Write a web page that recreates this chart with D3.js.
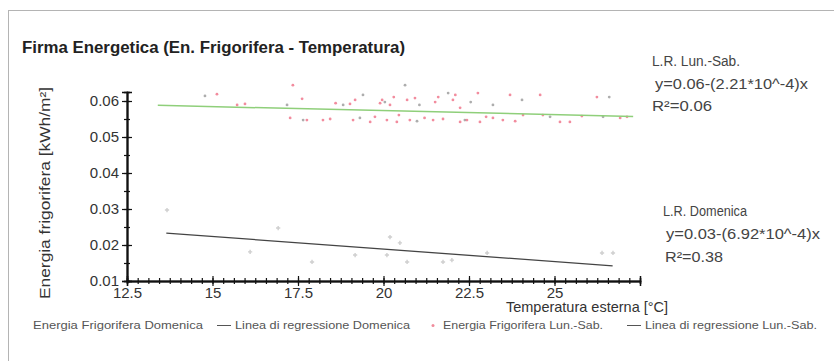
<!DOCTYPE html>
<html>
<head>
<meta charset="utf-8">
<script src="https://cdn.jsdelivr.net/npm/d3@7"></script>
<style>
  body { margin: 0; background: #fff; }
  svg { font-family: "Liberation Sans", Arial, sans-serif; }
</style>
</head>
<body>
<div id="chart"></div>
<script>
// tick labels
var xTicks = [12.5, 15, 17.5, 20, 22.5, 25]
var yTicks = [0.01, 0.02, 0.03, 0.04, 0.05, 0.06]

// Energia frigorifera Lun.-Sab. [temperatura, kWh/m2]
var lunSab = [
    [14.78, 0.0614], [15.13, 0.0619], [15.72, 0.0589], [15.95, 0.0592],
    [17.18, 0.0589], [17.27, 0.0553], [17.35, 0.0644], [17.62, 0.0606],
    [17.65, 0.0547], [17.76, 0.0547], [18.23, 0.0547], [18.44, 0.0550],
    [18.82, 0.0589], [19.02, 0.0592], [19.11, 0.0547], [19.17, 0.0603],
    [19.31, 0.0553], [19.61, 0.0542], [19.90, 0.0594], [19.96, 0.0603],
    [20.04, 0.0597], [20.10, 0.0547], [20.19, 0.0589], [20.39, 0.0542],
    [20.63, 0.0644], [20.69, 0.0603], [20.77, 0.0547], [20.92, 0.0608],
    [20.98, 0.0544], [21.45, 0.0547], [21.51, 0.0597], [21.74, 0.0550],
    [21.89, 0.0622], [22.03, 0.0603], [22.24, 0.0581], [22.24, 0.0542],
    [22.38, 0.0547], [22.44, 0.0547], [22.76, 0.0622], [22.82, 0.0542],
    [23.20, 0.0589], [23.20, 0.0553], [23.49, 0.0547], [23.70, 0.0617],
    [24.05, 0.0603], [24.08, 0.0561], [24.58, 0.0617], [24.66, 0.0561],
    [24.87, 0.0556], [25.16, 0.0542], [25.45, 0.0542], [26.24, 0.0611],
    [26.42, 0.0556], [26.92, 0.0553], [27.12, 0.0556],
    [18.60, 0.0594], [19.40, 0.0617], [19.75, 0.0556], [20.30, 0.0611],
    [20.45, 0.0561], [21.05, 0.0589], [21.20, 0.0553], [21.60, 0.0611],
    [22.10, 0.0617], [22.55, 0.0597], [23.00, 0.0556], [23.85, 0.0544],
    [25.80, 0.0558], [26.60, 0.0611]
]

// Energia frigorifera Domenica
var domenica = [
    [13.67, 0.0297], [16.10, 0.0181], [16.92, 0.0247], [17.91, 0.0153],
    [19.17, 0.0172], [20.10, 0.0172], [20.19, 0.0222], [20.48, 0.0206],
    [20.69, 0.0153], [21.74, 0.0153], [22.00, 0.0158], [23.03, 0.0178],
    [26.39, 0.0178], [26.71, 0.0178]
]

// regression lines (end points)
var regLunSab = [[13.4, 0.0588], [27.3, 0.0557]]
var regDomenica = [[13.65, 0.0233], [26.7, 0.0142]]

var notesLunSab = ['L.R. Lun.-Sab.', 'y=0.06-(2.21*10^-4)x', 'R\u00b2=0.06']
var notesDomenica = ['L.R. Domenica', 'y=0.03-(6.92*10^-4)x', 'R\u00b2=0.38']

var legendItems = [
    { label: 'Energia Frigorifera  Domenica', type: 'dot', color: '#ddd' },
    { label: 'Linea di regressione Domenica', type: 'line', color: '#555' },
    { label: 'Energia Frigorifera Lun.-Sab.', type: 'dot', color: '#f08c9c' },
    { label: 'Linea di regressione Lun.-Sab.', type: 'line', color: '#555' }
]

var W = 834, H = 361
var margin = { top: 92, left: 127 }
var width = 513, height = 189

var svg = d3.select('#chart').append('svg')
    .attr('width', W)
    .attr('height', H)

// frame
svg.append('rect')
    .attr('x', 8.5).attr('y', 10.5)
    .attr('width', 840).attr('height', 400)
    .style('fill', 'none')
    .style('stroke', '#b4b4b4')

svg.append('text')
    .attr('x', 22).attr('y', 53)
    .attr('textLength', 383)
    .attr('lengthAdjust', 'spacingAndGlyphs')
    .style('font-size', '16px')
    .style('font-weight', 'bold')
    .style('fill', '#222')
    .text('Firma Energetica (En. Frigorifera - Temperatura)')

var g = svg.append('g')
    .attr('transform', 'translate(' + margin.left + ',' + margin.top + ')')

var x = d3.scaleLinear().domain([12.5, 27.5]).range([0, width])
var y = d3.scaleLinear().domain([0.01, 0.0625]).range([height, 0])

var xMinor = d3.range(12.5, 27.51, 2.5 / 8)
var yMinor = d3.range(0.01, 0.0626, 0.005)

// points
g.append('g').selectAll('path')
    .data(domenica)
    .enter().append('path')
    .attr('d', d3.symbol().type(d3.symbolCross).size(10))
    .attr('transform', function (d) { return 'translate(' + x(d[0]) + ',' + y(d[1]) + ')' })
    .style('fill', '#cfcfcf')

g.append('g').selectAll('circle')
    .data(lunSab)
    .enter().append('circle')
    .attr('cx', function (d) { return x(d[0]) })
    .attr('cy', function (d) { return y(d[1]) })
    .attr('r', 1.4)
    .style('fill', function (d, i) { return i % 4 == 0 ? '#999' : '#ef6f86' })
    .style('opacity', 0.8)

var line = d3.line()
    .x(function (d) { return x(d[0]) })
    .y(function (d) { return y(d[1]) })

g.append('path').datum(regLunSab)
    .attr('d', line)
    .style('fill', 'none')
    .style('stroke', '#8fcf7a')
    .style('stroke-width', 1.5)

g.append('path').datum(regDomenica)
    .attr('d', line)
    .style('fill', 'none')
    .style('stroke', '#444')
    .style('stroke-width', 1.3)

// axes, ticks crossing the line
function styleAxis(sel) {
    sel.select('.domain').style('stroke', '#111').style('stroke-width', 1.5)
    sel.selectAll('.tick line').style('stroke', '#111').style('stroke-width', 1.2)
    sel.selectAll('text').style('font-size', '15px').style('fill', '#333')
        .style('font-family', '"Liberation Sans", Arial, sans-serif')
}

var gx = g.append('g').attr('transform', 'translate(0,' + height + ')')
gx.append('g').call(d3.axisBottom(x).tickValues(xMinor).tickSize(3).tickFormat('')).call(styleAxis)
gx.append('g').call(d3.axisTop(x).tickValues(xMinor).tickSize(3).tickFormat('')).call(styleAxis)
gx.append('g').call(d3.axisTop(x).tickValues(xTicks).tickSize(5).tickFormat('')).call(styleAxis)
gx.append('g').call(d3.axisBottom(x).tickValues(xTicks).tickSize(5).tickPadding(1)
    .tickFormat(function (d) { return d })).call(styleAxis)

var gy = g.append('g')
gy.append('g').call(d3.axisLeft(y).tickValues(yMinor).tickSize(3).tickFormat('')).call(styleAxis)
gy.append('g').call(d3.axisRight(y).tickValues(yMinor).tickSize(3).tickFormat('')).call(styleAxis)
gy.append('g').call(d3.axisRight(y).tickValues(yTicks).tickSize(5).tickFormat('')).call(styleAxis)
gy.append('g').call(d3.axisLeft(y).tickValues(yTicks).tickSize(5).tickPadding(3)
    .tickFormat(d3.format('.2f'))).call(styleAxis)

svg.append('text')
    .attr('x', 587).attr('y', 312)
    .style('text-anchor', 'middle')
    .style('font-size', '14.5px')
    .style('fill', '#333')
    .text('Temperatura esterna [\u00b0C]')

svg.append('text')
    .attr('transform', 'translate(50,193) rotate(-90)')
    .attr('textLength', 212)
    .attr('lengthAdjust', 'spacingAndGlyphs')
    .style('text-anchor', 'middle')
    .style('font-size', '15px')
    .style('fill', '#333')
    .text('Energia frigorifera [kWh/m\u00b2]')

// regression notes
function notes(lines, pos) {
    svg.append('g').selectAll('text')
        .data(lines)
        .enter().append('text')
        .attr('x', function (d, i) { return pos[i][0] })
        .attr('y', function (d, i) { return pos[i][1] })
        .attr('textLength', function (d, i) { return pos[i][2] })
        .attr('lengthAdjust', 'spacingAndGlyphs')
        .style('font-size', '14px')
        .style('fill', '#444')
        .text(function (d) { return d })
}
notes(notesLunSab, [[652, 66, 88], [655, 89, 153], [652, 111, 60]])
notes(notesDomenica, [[663, 216, 84], [666, 239, 154], [665, 262, 58]])

// legend
var legendPos = [[33, 170], [217, 193], [443, 160], [627, 190]]
var legend = svg.append('g').attr('transform', 'translate(0,329)')
legendItems.forEach(function (d, i) {
    var item = legend.append('g').attr('transform', 'translate(' + legendPos[i][0] + ',0)')
    var tx = 0
    if (d.type == 'line') {
        item.append('line')
            .attr('x1', 0).attr('x2', 14).attr('y1', -3.5).attr('y2', -3.5)
            .style('stroke', d.color).style('stroke-width', 1)
        tx = 18
    } else if (i == 2) {
        item.append('circle').attr('cx', -10).attr('cy', -3.5).attr('r', 1.5).style('fill', d.color)
    }
    item.append('text')
        .attr('x', tx)
        .attr('textLength', legendPos[i][1] - tx)
        .attr('lengthAdjust', 'spacingAndGlyphs')
        .style('font-size', '10.5px')
        .style('fill', '#555')
        .text(d.label)
})
</script>
</body>
</html>
